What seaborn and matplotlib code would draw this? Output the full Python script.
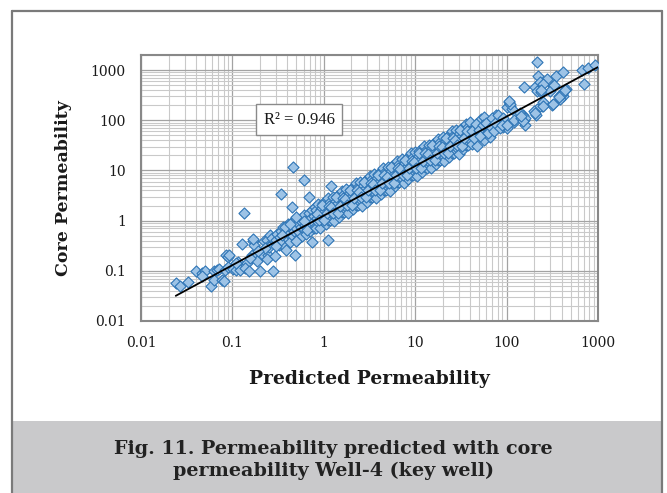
import numpy as np
import pandas as pd
import matplotlib
matplotlib.use("Agg")
import matplotlib.pyplot as plt
from matplotlib.lines import Line2D
from matplotlib.patches import Rectangle
from matplotlib.ticker import LogLocator, NullFormatter
import seaborn as sns

# ---- data: predicted vs. core permeability (mD) ----
low_pred = [0.024, 0.027, 0.033, 0.040, 0.046, 0.050, 0.047, 0.058, 0.063, 0.067, 0.063, 0.072,
            0.076, 0.081, 0.085, 0.089, 0.092, 0.083, 0.090, 0.102, 0.109, 0.114, 0.121, 0.126,
            0.145, 0.137, 0.150, 0.166, 0.172, 0.162, 0.185, 0.200, 0.210, 0.220, 0.240, 0.246,
            0.275, 0.110, 0.170, 0.260, 0.240, 0.290, 0.260, 0.280, 0.250, 0.270, 0.230, 0.190,
            0.155]
low_core = [0.058, 0.050, 0.061, 0.100, 0.091, 0.100, 0.078, 0.049, 0.100, 0.103, 0.067, 0.110,
            0.067, 0.062, 0.210, 0.190, 0.205, 0.105, 0.120, 0.110, 0.105, 0.150, 0.103, 0.340,
            0.140, 0.114, 0.100, 0.400, 0.330, 0.205, 0.160, 0.100, 0.220, 0.400, 0.420, 0.205,
            0.100, 0.140, 0.440, 0.340, 0.170, 0.195, 0.510, 0.360, 0.300, 0.450, 0.280, 0.250,
            0.180]

mid_pred = [0.30, 0.31, 0.32, 0.33, 0.34, 0.35, 0.36, 0.37, 0.38, 0.39, 0.40, 0.41, 0.42, 0.43,
            0.44, 0.45, 0.46, 0.47, 0.48, 0.50, 0.51, 0.52, 0.53, 0.55, 0.56, 0.57, 0.58, 0.60,
            0.61, 0.62, 0.64, 0.65, 0.66, 0.68, 0.69, 0.70, 0.72, 0.73, 0.75, 0.76, 0.78, 0.79,
            0.30, 0.38, 0.43, 0.35, 0.50, 0.60, 0.39, 0.50, 0.65, 0.80, 0.74, 0.49, 0.91]
mid_core = [0.42, 0.55, 0.33, 0.48, 0.62, 0.40, 0.75, 0.52, 0.30, 0.60, 0.45, 0.85, 0.55, 0.38,
            0.70, 0.95, 0.50, 0.62, 1.05, 0.72, 0.42, 0.88, 0.60, 1.10, 0.75, 0.50, 0.95, 0.68,
            1.30, 0.82, 0.55, 1.05, 0.72, 1.45, 0.90, 0.62, 1.15, 0.80, 1.60, 0.95, 0.70, 1.25,
            0.31, 0.74, 0.87, 0.51, 1.17, 1.00, 0.26, 0.40, 0.64, 1.85, 0.37, 0.205, 1.60]

band_pred = [
    0.82, 0.83, 0.84, 0.86, 0.87, 0.88, 0.91, 0.92, 0.94, 0.97, 0.98, 1.00,
    1.03, 1.05, 1.06, 1.09, 1.11, 1.12, 1.16, 1.17, 1.19, 1.23, 1.25, 1.26,
    1.30, 1.32, 1.33, 1.38, 1.40, 1.41, 1.46, 1.48, 1.49, 1.55, 1.57, 1.58,
    1.64, 1.66, 1.68, 1.75, 1.77, 1.78, 1.85, 1.87, 1.88, 1.96, 1.98, 2.00,
    2.08, 2.10, 2.12, 2.20, 2.23, 2.25, 2.34, 2.36, 2.38, 2.48, 2.50, 2.53,
    2.63, 2.65, 2.68, 2.79, 2.81, 2.84, 2.96, 2.98, 3.00, 3.14, 3.17, 3.19,
    3.33, 3.35, 3.38, 3.53, 3.55, 3.58, 3.74, 3.76, 3.79, 3.96, 3.98, 4.01,
    4.20, 4.22, 4.25, 4.45, 4.48, 4.50, 4.72, 4.74, 4.77, 4.98, 5.00, 5.04,
    5.28, 5.30, 5.34, 5.58, 5.60, 5.65, 5.96, 6.00, 6.04, 6.28, 6.32, 6.36,
    6.66, 6.70, 6.74, 7.06, 7.10, 7.15, 7.46, 7.50, 7.55, 7.95, 8.00, 8.05,
    8.35, 8.40, 8.46, 8.85, 8.90, 8.95, 9.35, 9.40, 9.46, 9.95, 10.0, 10.1,
    10.5, 10.6, 10.7, 11.1, 11.2, 11.3, 11.8, 11.9, 12.0, 12.5, 12.6, 12.7,
    13.2, 13.3, 13.4, 14.0, 14.1, 14.2, 14.9, 15.0, 15.1, 15.7, 15.8, 15.9,
    16.7, 16.8, 16.9, 17.7, 17.8, 17.9, 18.7, 18.8, 18.9, 19.9, 20.0, 20.2,
    20.9, 21.0, 21.2, 22.3, 22.4, 22.6, 23.6, 23.7, 23.9, 24.9, 25.0, 25.2,
    26.5, 26.6, 26.8, 27.9, 28.0, 28.2, 29.9, 30.0, 30.2, 31.5, 31.6, 31.8,
    33.4, 33.5, 33.7, 35.4, 35.5, 35.7, 37.5, 37.6, 37.8, 39.9, 40.0, 40.2,
    0.845, 0.895, 0.95, 1.01, 1.07, 1.135, 1.205, 1.275, 1.35, 1.43, 1.515, 1.61,
    1.71, 1.81, 1.92, 2.04, 2.16, 2.29, 2.43, 2.58, 2.73, 2.90, 3.07, 3.25,
    3.45, 3.65, 3.87, 4.10, 4.35, 4.60, 4.87, 5.15, 5.45, 5.80, 6.15, 6.50,
    6.90, 7.30, 7.75, 8.20, 8.65, 9.15, 9.70, 10.3, 10.9, 11.5, 12.2, 12.9,
    13.7, 14.5, 15.4, 16.3, 17.3, 18.3, 19.4, 20.5, 21.7, 23.0, 24.3, 25.8,
    27.3, 29.0, 30.8, 32.5, 34.5, 36.5]
band_core = [
    1.65, 0.72, 1.15, 0.94, 2.10, 1.45, 0.70, 1.68, 1.18, 2.20, 0.99, 1.50,
    1.25, 0.85, 1.97, 1.87, 2.80, 1.04, 2.35, 1.03, 1.62, 1.33, 3.00, 2.05,
    0.99, 2.40, 1.65, 3.05, 1.40, 2.10, 1.76, 1.20, 2.80, 2.65, 3.90, 1.47,
    3.30, 1.46, 2.30, 1.88, 4.20, 2.87, 1.40, 3.40, 2.33, 4.30, 1.98, 3.00,
    2.50, 1.71, 3.95, 3.75, 5.50, 2.08, 4.70, 2.06, 3.25, 2.65, 5.90, 4.05,
    1.98, 4.80, 3.30, 6.10, 2.80, 4.20, 3.50, 2.40, 5.60, 5.30, 7.90, 2.95,
    6.70, 2.90, 4.60, 3.75, 8.40, 5.70, 2.80, 6.80, 4.70, 8.70, 3.95, 5.95,
    5.00, 3.40, 7.85, 7.50, 11.1, 4.15, 9.40, 4.10, 6.50, 5.30, 11.8, 8.10,
    3.95, 9.50, 6.60, 12.1, 5.55, 8.30, 7.05, 4.80, 11.1, 10.5, 15.6, 5.85,
    13.3, 5.80, 9.10, 7.50, 16.7, 11.4, 5.60, 13.5, 9.30, 17.3, 7.90, 11.9,
    9.90, 6.75, 15.6, 14.9, 22.0, 8.25, 18.6, 8.10, 12.8, 10.5, 23.4, 16.0,
    7.80, 18.9, 13.0, 24.0, 11.0, 16.4, 13.9, 9.50, 21.9, 20.8, 30.8, 11.6,
    26.0, 11.4, 17.9, 14.6, 32.7, 22.4, 11.0, 26.5, 18.3, 33.8, 15.4, 23.2,
    19.5, 13.3, 30.8, 29.3, 43.0, 16.3, 36.6, 16.0, 25.2, 20.6, 46.0, 31.5,
    15.2, 36.8, 25.4, 47.4, 21.7, 32.5, 27.2, 18.6, 42.9, 40.8, 60.0, 22.7,
    51.0, 22.5, 35.3, 28.7, 64.0, 44.0, 21.7, 52.5, 36.2, 66.7, 30.5, 45.7,
    38.3, 26.2, 60.5, 57.6, 85.0, 32.0, 72.0, 31.6, 49.7, 40.8, 91.0, 62.4,
    1.33, 1.02, 2.04, 1.02, 1.42, 2.00, 1.90, 1.45, 2.90, 1.44, 2.00, 2.83,
    2.68, 2.04, 4.10, 2.05, 2.84, 4.00, 3.80, 2.90, 5.80, 2.90, 4.00, 5.65,
    5.35, 4.10, 8.20, 4.07, 5.67, 8.00, 7.55, 5.75, 11.5, 5.75, 8.00, 11.3,
    10.7, 8.10, 16.3, 8.10, 11.2, 15.8, 15.0, 11.4, 22.8, 11.3, 15.7, 22.1,
    20.9, 15.9, 32.0, 15.9, 22.2, 31.2, 29.4, 22.3, 44.7, 22.2, 30.9, 43.5,
    41.1, 31.5, 63.0, 31.4, 43.6, 61.5]

high_pred = [42, 45, 48, 48, 52, 53, 56, 57, 58, 63, 66, 66, 77, 91, 100, 120, 42, 44, 46, 50,
             51, 55, 60, 62, 68, 70, 72, 75, 81, 85, 91, 88, 100, 105, 110, 100, 115, 120, 110,
             105, 150, 145, 155, 160, 140, 160, 150, 145, 155, 205, 213, 235, 320, 450, 400,
             415, 370, 300, 380, 315, 245, 213, 200, 208, 250, 223, 275, 230, 250, 350, 410,
             664, 770, 925, 700, 213, 240, 330, 320, 400, 370, 440, 250, 205]
high_core = [33, 70, 31, 82, 105, 55, 117, 40, 62, 72, 96, 47, 130, 74, 70, 94, 60, 45, 85, 65,
             48, 80, 90, 55, 75, 110, 60, 88, 130, 70, 110, 81, 81, 230, 195, 180, 165, 100, 210,
             240, 130, 110, 102, 81, 140, 110, 96, 120, 460, 460, 380, 360, 490, 420, 350,
             310, 310, 380, 260, 205, 195, 165, 150, 130, 230, 770, 660, 570, 536, 770, 930,
             1014, 1125, 1240, 536, 1440, 400, 500, 210, 340, 290, 400, 190, 140]

outlier_pred = [0.46, 0.60, 0.34, 0.69, 0.45, 1.20, 1.12, 0.135]
outlier_core = [11.9, 6.6, 3.4, 3.0, 1.85, 4.8, 0.41, 1.40]

# power-law trend line core = a * predicted^b
trend_a = 1.26
trend_b = 0.987
trend_range = [0.024, 1000]
r_squared = 0.946

tick_values = [0.01, 0.1, 1, 10, 100, 1000]
tick_labels = ["0.01", "0.1", "1", "10", "100", "1000"]

x_label = "Predicted Permeability"
y_label = "Core Permeability"
caption = "Fig. 11. Permeability predicted with core\npermeability Well-4 (key well)"

df = pd.DataFrame({
    "predicted": low_pred + mid_pred + band_pred + high_pred + outlier_pred,
    "core": low_core + mid_core + band_core + high_core + outlier_core,
})

# ---- style ----
sns.set_style("white")
plt.rcParams["font.family"] = ["DejaVu Serif"]

fig = plt.figure(figsize=(6.67, 4.93), dpi=100)

# caption band and frame around the whole figure
fig.patches.append(Rectangle((0.018, 0.0), 0.9745, 0.146, transform=fig.transFigure,
                             facecolor="#c9c9cb", edgecolor="none", zorder=0))
frame_kw = dict(transform=fig.transFigure, color="#7a7a7a", lw=1.6, zorder=1)
fig.add_artist(Line2D([0.018, 0.018], [0.0, 0.978], **frame_kw))
fig.add_artist(Line2D([0.9925, 0.9925], [0.0, 0.978], **frame_kw))
fig.add_artist(Line2D([0.018, 0.9925], [0.978, 0.978], **frame_kw))

ax = fig.add_axes([0.2114, 0.3489, 0.6852, 0.5395])
ax.set_zorder(2)

sns.scatterplot(data=df, x="predicted", y="core", marker="D", s=32,
                color="#9dc3e6", edgecolor="#2e75b6", linewidth=0.8,
                legend=False, ax=ax, zorder=3)

trend_x = np.geomspace(trend_range[0], trend_range[1], 100)
ax.plot(trend_x, trend_a * trend_x ** trend_b, color="black", lw=1.3, zorder=4)

ax.set_xscale("log")
ax.set_yscale("log")
ax.set_xlim(0.01, 1000)
ax.set_ylim(0.01, 2000)

ax.set_xticks(tick_values, tick_labels)
ax.set_yticks(tick_values, tick_labels)
ax.xaxis.set_minor_locator(LogLocator(base=10, subs=np.arange(2, 10), numticks=20))
ax.yaxis.set_minor_locator(LogLocator(base=10, subs=np.arange(2, 10), numticks=20))
ax.xaxis.set_minor_formatter(NullFormatter())
ax.yaxis.set_minor_formatter(NullFormatter())

ax.grid(True, which="minor", color="#c9c9c9", lw=0.8, zorder=0)
ax.grid(True, which="major", color="#a3a3a3", lw=0.9, zorder=0)
ax.set_axisbelow(True)

ax.tick_params(which="major", direction="out", length=5, width=1.2, color="#808080",
               labelsize=10, labelcolor="#1a1a1a", pad=6)
ax.tick_params(which="minor", length=0)
for side in ["left", "bottom", "top", "right"]:
    ax.spines[side].set_visible(True)
    ax.spines[side].set_color("#888888")
    ax.spines[side].set_linewidth(1.5)

ax.set_xlabel(x_label, fontsize=13.5, fontweight="bold", color="#1a1a1a")
ax.set_ylabel(y_label, fontsize=12.5, fontweight="bold", color="#1a1a1a")
ax.xaxis.set_label_coords(0.5, -0.185)
ax.yaxis.set_label_coords(-0.15, 0.5)

ax.text(0.346, 0.756, f"R\u00b2 = {r_squared}", transform=ax.transAxes,
        ha="center", va="center", fontsize=12, color="#1a1a1a", zorder=5,
        family=["Liberation Serif", "DejaVu Serif"],
        bbox=dict(boxstyle="square,pad=0.45", facecolor="white", edgecolor="#8a8a8a", lw=1))

fig.text(0.5, 0.067, caption, ha="center", va="center", fontsize=13.8,
         fontweight="bold", color="#222222", linespacing=1.2)

fig.savefig("out.png", dpi=100)
